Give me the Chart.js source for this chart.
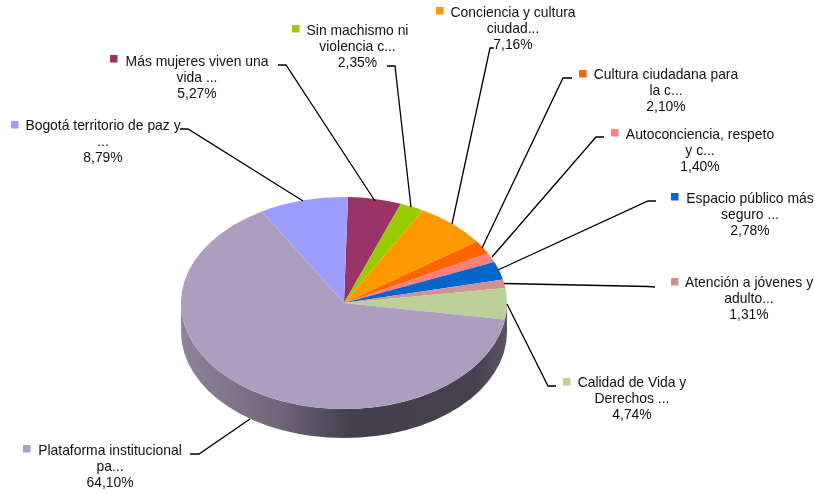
<!DOCTYPE html>
<html>
<head>
<meta charset="utf-8">
<style>
  html, body { margin: 0; padding: 0; background: #fff; }
  canvas { display: block; }
</style>
<script src="https://cdn.jsdelivr.net/npm/chart.js@4/dist/chart.umd.min.js"></script>
</head>
<body>
<canvas id="pieChart" width="815" height="493"></canvas>
<script>
const labelLines = [
  ["Más mujeres viven una", "vida ..."],
  ["Sin machismo ni", "violencia c..."],
  ["Conciencia y cultura", "ciudad..."],
  ["Cultura ciudadana para", "la c..."],
  ["Autoconciencia, respeto", "y c..."],
  ["Espacio público más", "seguro ..."],
  ["Atención a jóvenes y", "adulto..."],
  ["Calidad de Vida y", "Derechos ..."],
  ["Plataforma institucional", "pa..."],
  ["Bogotá territorio de paz y", "..."],
];
const shares = [5.27, 2.35, 7.16, 2.1, 1.4, 2.78, 1.31, 4.74, 64.1, 8.79];
const sliceColors = [
  "#993366", "#99CC00", "#FF9900", "#FF6600", "#FF8080",
  "#0066CC", "#D09393", "#BBD199", "#AD9EBF", "#9D9DFF",
];

// where each label sits: text centre, first baseline, legend key
const labelSpots = [
  { x: 197, y: 66, keyX: 110, keyY: 55 },
  { x: 357.5, y: 35, keyX: 292, keyY: 25 },
  { x: 513, y: 17, keyX: 436, keyY: 7 },
  { x: 666, y: 79, keyX: 579, keyY: 70 },
  { x: 700, y: 139, keyX: 611, keyY: 129 },
  { x: 750, y: 203, keyX: 671, keyY: 193 },
  { x: 749, y: 287, keyX: 671, keyY: 278 },
  { x: 632, y: 387, keyX: 563, keyY: 378 },
  { x: 110, y: 455, keyX: 23, keyY: 445 },
  { x: 103, y: 130, keyX: 11, keyY: 121 },
];
const leaders = [
  [[278, 65], [286, 65], [375, 201]],
  [[387, 66], [395, 66], [411, 207]],
  [[494, 48], [490, 48], [452, 224]],
  [[572, 78], [563, 78], [482, 248]],
  [[604, 137], [596, 137], [492, 257]],
  [[656, 201], [648, 201], [498, 270]],
  [[655, 287], [648, 286.5], [504, 283.5]],
  [[556, 386], [548, 386], [507, 304]],
  [[190, 454], [199, 454], [250, 419]],
  [[180, 129], [188, 129], [303, 201]],
];

const squash = 106 / 163;
const wallDepth = 29;
const lineGap = 16;

const pie3d = {
  id: "pie3d",
  beforeDatasetsDraw(chart) {
    const ctx = chart.ctx;
    const arc = chart.getDatasetMeta(0).data[0];
    const rx = arc.outerRadius;
    const ry = rx * squash;

    const wall = ctx.createLinearGradient(arc.x - rx, 0, arc.x + rx, 0);
    wall.addColorStop(0, "#8F859C");
    wall.addColorStop(0.3, "#6F6679");
    wall.addColorStop(0.52, "#453F4D");
    wall.addColorStop(0.9, "#47414F");
    wall.addColorStop(1, "#5A5364");

    ctx.save();
    ctx.fillStyle = wall;
    ctx.beginPath();
    ctx.ellipse(arc.x, arc.y, rx, ry, 0, 0, Math.PI);
    ctx.ellipse(arc.x, arc.y + wallDepth, rx, ry, 0, Math.PI, 0, true);
    ctx.closePath();
    ctx.fill();
    ctx.restore();

    // flatten the pie itself
    ctx.save();
    ctx.translate(arc.x, arc.y);
    ctx.scale(1, squash);
    ctx.translate(-arc.x, -arc.y);
  },
  afterDatasetsDraw(chart) {
    chart.ctx.restore();
  },
  afterDraw(chart) {
    const ctx = chart.ctx;
    ctx.save();

    ctx.strokeStyle = "#000";
    ctx.lineWidth = 1.3;
    leaders.forEach((pts) => {
      ctx.beginPath();
      pts.forEach((p, i) => (i ? ctx.lineTo(p[0], p[1]) : ctx.moveTo(p[0], p[1])));
      ctx.stroke();
    });

    ctx.font = '13.9px "Liberation Sans", Arial, sans-serif';
    ctx.textAlign = "center";
    ctx.textBaseline = "alphabetic";
    labelSpots.forEach((spot, i) => {
      ctx.fillStyle = sliceColors[i];
      ctx.fillRect(spot.keyX, spot.keyY, 7.5, 7.5);
      ctx.fillStyle = "#111";
      const pct = shares[i].toFixed(2).replace(".", ",") + "%";
      labelLines[i].concat(pct).forEach((line, n) => {
        ctx.fillText(line, spot.x, spot.y + n * lineGap);
      });
    });
    ctx.restore();
  },
};

new Chart(document.getElementById("pieChart"), {
  type: "pie",
  data: {
    labels: labelLines.map((l) => l.join(" ")),
    datasets: [
      {
        data: shares,
        backgroundColor: sliceColors,
        borderWidth: 0,
        radius: 163,
        hoverOffset: 0,
      },
    ],
  },
  options: {
    responsive: false,
    devicePixelRatio: 1,
    animation: false,
    rotation: 1.4,
    layout: { padding: { right: 127, top: 113 } },
    plugins: {
      legend: { display: false },
      tooltip: { enabled: false },
    },
  },
  plugins: [pie3d],
});
</script>
</body>
</html>
